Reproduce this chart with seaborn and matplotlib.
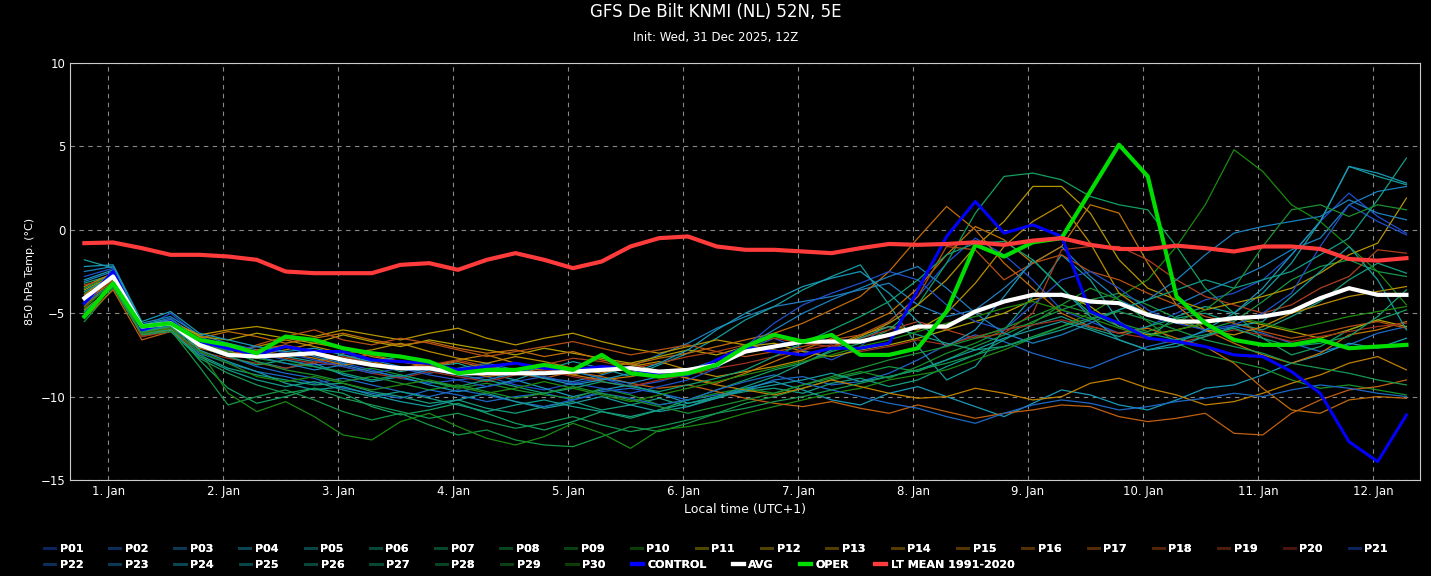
import matplotlib
matplotlib.use("Agg")
import matplotlib.dates as mdates
import matplotlib.pyplot as plt
from matplotlib.colors import LinearSegmentedColormap, to_hex, to_rgb
from matplotlib.lines import Line2D
import pandas as pd
import seaborn as sns

times = pd.date_range("2025-12-31 19:00", periods=47, freq="6h")

lt_mean = [-0.8, -0.76, -1.1, -1.5, -1.5, -1.6, -1.8, -2.5, -2.6, -2.6, -2.6, -2.1, -2.0, -2.4, -1.8, -1.4,
           -1.8, -2.3, -1.9, -1.0, -0.5, -0.4, -1.0, -1.2, -1.2, -1.3, -1.4, -1.1, -0.85, -0.9, -0.85, -0.75,
           -0.9, -0.65, -0.5, -0.9, -1.15, -1.15, -0.95, -1.1, -1.3, -1.0, -1.0, -1.15, -1.75, -1.85, -1.7]
avg = [-4.1, -2.8, -5.8, -5.6, -6.9, -7.5, -7.6, -7.5, -7.4, -7.8, -8.1, -8.3, -8.3, -8.6, -8.6, -8.6,
       -8.6, -8.5, -8.4, -8.3, -8.5, -8.4, -8.1, -7.3, -7.0, -6.7, -6.7, -6.7, -6.3, -5.8, -5.8, -4.9,
       -4.3, -3.9, -3.9, -4.3, -4.4, -5.1, -5.5, -5.5, -5.3, -5.2, -4.9, -4.1, -3.5, -3.9, -3.9]
oper = [-5.2, -3.2, -5.8, -5.6, -6.6, -6.9, -7.4, -6.4, -6.6, -7.1, -7.4, -7.6, -7.9, -8.6, -8.4, -8.4,
        -8.1, -8.4, -7.5, -8.6, -8.8, -8.6, -8.1, -7.0, -6.3, -6.7, -6.3, -7.5, -7.5, -7.1, -4.9, -0.9,
        -1.6, -0.75, -0.5, 2.3, 5.1, 3.2, -4.0, -5.6, -6.6, -6.9, -6.9, -6.6, -7.1, -7.0, -6.9]
control = [-4.4, -2.5, -6.0, -5.5, -6.7, -7.1, -7.5, -7.0, -7.3, -7.3, -7.8, -7.9, -8.0, -8.4, -8.2, -8.0,
           -8.3, -8.4, -8.2, -8.3, -8.7, -8.7, -7.8, -7.0, -7.3, -7.5, -7.1, -7.1, -6.8, -3.6, -0.4, 1.7,
           -0.2, 0.3, -0.4, -4.9, -5.6, -6.5, -6.7, -7.0, -7.5, -7.6, -8.5, -9.8, -12.7, -13.9, -11.1]

members = {
    "P01": [-3.5,-2.6,-5.9,-5.0,-6.4,-7.0,-7.4,-7.8, -8.1,-8.0,-8.4,-8.9,-9.2,-9.0,-8.8,-9.3, -9.6,-9.2,-8.9,-9.4,-9.1,-8.6,-8.0,-7.2, -6.5,-7.2,-7.8,-7.0,-5.5,-4.0,-2.0,-0.5, -1.5,-3.0,-4.8,-5.5,-6.2,-5.8,-5.0,-4.2, -3.8,-3.0,-1.5,0.5,2.2,0.8,-0.2],
    "P02": [-4.0,-2.9,-6.2,-5.6,-7.0,-7.6,-8.2,-8.6, -8.9,-9.5,-9.8,-10.1,-9.6,-9.9,-10.3,-10.0, -9.8,-10.2,-9.7,-9.5,-9.8,-10.2,-9.9,-9.6, -9.0,-8.8,-9.3,-9.1,-8.6,-7.8,-6.9,-6.3, -6.7,-7.4,-7.9,-8.3,-7.6,-7.0,-6.6,-6.1, -5.8,-6.2,-6.8,-7.3,-6.9,-6.2,-5.8],
    "P03": [-2.5,-2.2,-5.6,-5.2,-6.3,-6.8,-7.2,-7.0, -7.6,-8.0,-7.8,-8.2,-8.6,-8.3,-8.0,-8.4, -8.9,-9.1,-8.7,-8.2,-7.5,-6.8,-5.9,-5.2, -4.6,-4.3,-4.0,-3.6,-3.2,-4.5,-5.2,-4.8, -3.5,-2.0,-1.0,-2.8,-4.2,-5.0,-4.5,-3.7, -3.0,-2.2,-1.2,-0.5,1.5,2.3,2.6],
    "P04": [-3.0,-2.4,-5.8,-5.5,-6.8,-7.2,-7.9,-8.3, -8.0,-8.7,-9.1,-8.8,-9.3,-9.7,-9.4,-9.0, -9.5,-10.0,-9.6,-9.3,-9.8,-10.4,-10.1,-9.5, -9.1,-9.6,-10.2,-10.5,-9.8,-9.4,-10.0,-10.6, -11.2,-10.4,-9.6,-9.9,-10.5,-10.8,-10.2,-9.5, -9.3,-8.7,-8.0,-7.5,-6.8,-7.1,-6.5],
    "P05": [-1.8,-2.3,-5.7,-5.3,-6.6,-7.1,-7.3,-7.6, -7.9,-7.5,-8.0,-8.5,-8.2,-8.0,-8.6,-9.0, -8.4,-7.9,-8.3,-8.8,-8.1,-7.4,-6.5,-5.4, -4.6,-3.6,-2.8,-2.1,-4.5,-7.0,-9.0,-8.2, -6.0,-4.0,-1.5,-3.0,-5.5,-6.5,-5.2,-4.6, -5.0,-3.8,-2.0,0.5,3.8,3.2,2.7],
    "P06": [-3.2,-2.7,-6.0,-5.9,-7.5,-8.3,-8.7,-9.0, -9.3,-9.2,-9.7,-10.0,-10.4,-10.2,-10.7,-11.0, -10.6,-10.3,-10.8,-10.5,-10.1,-10.6,-10.0,-9.7, -9.5,-9.8,-9.2,-8.9,-9.4,-9.0,-8.2,-7.5, -6.6,-5.7,-5.2,-5.9,-6.4,-5.8,-5.3,-5.0, -5.6,-6.0,-5.2,-4.3,-3.0,-2.0,-2.6],
    "P07": [-4.5,-3.3,-6.1,-5.8,-7.8,-9.5,-10.4,-10.0, -9.5,-9.8,-10.6,-11.1,-10.8,-10.4,-11.0,-11.6, -12.0,-11.5,-10.9,-11.3,-10.8,-10.2,-9.6,-9.0, -8.4,-8.0,-7.3,-6.8,-6.0,-4.5,-2.0,1.0, 3.2,3.4,3.0,2.0,1.5,1.2,-1.0,-3.5, -5.0,-6.5,-7.5,-7.0,-6.0,-5.4,-4.8],
    "P08": [-5.5,-3.5,-6.3,-6.0,-8.2,-10.5,-10.0,-9.6, -10.2,-10.9,-11.4,-11.0,-11.7,-12.3,-12.0,-12.6, -12.9,-13.0,-12.4,-11.8,-12.1,-11.6,-11.0,-10.4, -10.0,-9.5,-9.0,-8.6,-8.2,-8.5,-7.8,-7.0, -6.3,-5.5,-4.8,-4.2,-3.8,-4.5,-5.3,-6.0, -5.5,-4.3,-3.0,-2.2,-1.8,-2.5,-2.8],
    "P09": [-3.8,-2.8,-6.1,-5.7,-6.9,-7.4,-7.7,-8.0, -8.2,-8.5,-8.3,-8.7,-9.1,-9.5,-9.2,-9.6, -9.9,-10.1,-9.5,-9.9,-10.5,-10.2,-9.8,-9.5, -9.8,-9.3,-8.9,-8.5,-8.9,-8.2,-7.4,-6.8, -6.0,-5.6,-4.5,-3.5,-4.2,-5.5,-6.8,-7.5, -7.9,-8.3,-9.0,-9.5,-9.3,-9.6,-9.9],
    "P10": [-5.2,-3.2,-6.0,-5.6,-7.2,-9.8,-10.9,-10.3, -11.2,-12.3,-12.6,-11.5,-11.0,-11.8,-12.5,-12.9, -12.4,-11.6,-12.2,-13.1,-12.0,-11.8,-11.5,-11.0, -10.6,-10.2,-9.8,-9.5,-9.0,-8.7,-8.4,-7.8, -7.2,-6.5,-5.8,-5.0,-4.0,-3.0,-1.0,1.5, 4.8,3.5,1.5,0.5,-1.0,-2.5,-4.5],
    "P11": [-3.6,-2.7,-5.8,-5.4,-6.4,-6.6,-6.2,-6.5, -6.8,-6.3,-6.7,-7.0,-6.6,-6.9,-7.2,-7.5, -7.1,-7.4,-7.7,-8.0,-7.6,-7.2,-7.5,-7.0, -6.8,-7.3,-7.6,-7.2,-6.9,-6.5,-6.0,-5.5, -5.0,-4.2,-3.8,-4.6,-5.8,-6.3,-6.0,-5.6, -5.3,-5.7,-6.1,-6.5,-6.0,-5.4,-5.8],
    "P12": [-4.2,-3.0,-6.0,-5.5,-6.3,-6.0,-5.8,-6.1, -6.4,-6.0,-6.3,-6.6,-6.2,-5.9,-6.5,-6.9, -6.5,-6.2,-6.7,-7.1,-7.4,-7.0,-6.6,-6.9, -7.2,-7.5,-7.1,-6.4,-5.6,-4.5,-3.0,-1.0, 0.5,2.6,2.6,1.0,-1.8,-3.5,-4.2,-4.8, -4.4,-4.0,-3.5,-2.6,-1.5,-0.8,1.9],
    "P13": [-3.4,-2.6,-5.9,-5.7,-6.8,-7.3,-7.0,-6.6, -7.0,-7.4,-7.2,-6.8,-7.3,-7.7,-8.0,-7.6, -7.9,-8.3,-8.6,-8.2,-7.9,-8.4,-8.8,-8.5, -8.2,-7.8,-7.0,-6.3,-5.8,-6.0,-5.0,-3.2, -1.0,0.5,1.5,-0.8,-3.8,-5.0,-5.5,-6.0, -6.3,-5.8,-5.0,-4.5,-4.0,-3.7,-3.4],
    "P14": [-4.8,-3.4,-6.2,-6.0,-6.6,-7.0,-7.5,-7.2, -6.8,-7.1,-7.6,-7.9,-8.2,-7.8,-7.5,-8.0, -8.4,-8.7,-8.3,-8.0,-8.5,-8.9,-9.3,-9.6, -9.9,-9.5,-9.0,-9.4,-9.8,-10.1,-10.0,-9.5, -9.8,-10.2,-10.0,-9.2,-8.9,-9.5,-9.9,-10.5, -10.3,-9.8,-9.2,-8.7,-8.0,-7.6,-8.4],
    "P15": [-3.9,-2.5,-6.0,-5.6,-7.0,-7.3,-7.6,-7.4, -7.7,-8.1,-7.9,-8.3,-8.0,-8.4,-8.8,-8.6, -8.3,-8.7,-9.0,-8.8,-8.5,-8.9,-9.2,-8.6, -7.9,-7.2,-6.5,-5.8,-5.0,-3.5,-1.5,0.2, -0.6,-2.0,-1.0,1.5,1.0,-2.0,-4.5,-6.0, -6.8,-7.5,-8.0,-7.4,-6.3,-6.0,-5.5],
    "P16": [-4.3,-3.1,-6.4,-6.0,-6.5,-6.1,-6.4,-6.8, -6.5,-6.2,-6.6,-6.9,-6.7,-7.1,-7.4,-7.2, -7.6,-7.3,-7.8,-8.1,-7.7,-7.4,-7.0,-6.6, -6.2,-5.6,-4.8,-4.0,-2.5,-0.5,1.4,0.0, -2.0,-3.5,-5.0,-5.8,-6.2,-5.9,-6.5,-7.0, -8.0,-9.5,-10.8,-11.0,-10.2,-10.0,-10.1],
    "P17": [-5.3,-3.6,-6.6,-6.1,-7.1,-7.5,-7.2,-6.9, -7.3,-7.7,-7.5,-7.9,-8.2,-7.9,-8.3,-8.6, -8.9,-8.5,-8.8,-9.2,-9.5,-9.3,-9.7,-10.1, -10.4,-10.6,-10.3,-10.7,-11.0,-10.5,-10.9,-11.3, -11.0,-10.8,-10.5,-10.6,-11.2,-11.5,-11.3,-11.0, -12.2,-12.3,-11.0,-10.2,-9.6,-9.4,-9.0],
    "P18": [-4.6,-3.0,-6.3,-5.9,-7.0,-7.6,-6.9,-6.4, -6.0,-6.6,-6.9,-6.5,-6.8,-7.2,-7.6,-7.3, -7.0,-6.7,-7.1,-7.5,-7.2,-6.9,-7.3,-7.6, -7.3,-7.0,-6.6,-6.3,-5.5,-4.0,-1.0,-1.2, -3.0,-2.0,-1.5,-2.5,-3.0,-3.8,-4.5,-5.2, -5.6,-6.1,-6.5,-6.2,-5.8,-5.5,-5.9],
    "P19": [-3.3,-2.9,-6.2,-5.8,-6.9,-7.1,-7.4,-7.7, -8.0,-7.6,-8.0,-8.4,-8.1,-7.8,-8.2,-8.5, -8.1,-7.7,-7.9,-8.3,-8.0,-7.6,-7.3,-6.9, -6.5,-6.8,-7.0,-6.5,-6.0,-5.5,-6.0,-6.5, -6.2,-5.0,-1.2,-1.0,-1.0,-1.8,-3.0,-4.0, -4.5,-5.0,-4.5,-3.5,-2.8,-1.2,-1.4],
    "P20": [-4.0,-3.1,-6.4,-6.1,-7.3,-7.7,-8.0,-8.3, -7.9,-8.2,-8.6,-8.9,-8.5,-8.8,-9.1,-8.7, -8.4,-8.8,-9.1,-9.4,-9.0,-8.7,-8.3,-8.0, -7.6,-7.2,-6.9,-7.3,-7.0,-6.6,-6.9,-6.4, -6.0,-5.7,-5.4,-5.8,-6.2,-6.5,-6.8,-6.4, -6.0,-6.3,-6.7,-6.4,-6.1,-5.8,-5.6],
    "P21": [-2.8,-2.3,-5.9,-5.3,-6.7,-7.2,-7.0,-7.4, -7.8,-8.2,-8.6,-8.3,-8.7,-9.0,-9.4,-9.1, -8.8,-9.2,-9.5,-9.8,-9.4,-9.0,-8.3,-7.0, -5.6,-4.5,-3.8,-3.2,-2.5,-3.0,-4.5,-5.5, -6.0,-4.5,-3.0,-2.5,-3.5,-4.8,-5.6,-6.0, -5.7,-5.0,-3.8,-1.0,1.5,0.5,-0.3],
    "P22": [-4.4,-3.2,-6.1,-5.7,-7.4,-8.0,-8.5,-8.8, -9.2,-8.9,-9.3,-9.7,-10.0,-9.6,-9.9,-10.3, -10.6,-10.2,-9.8,-10.1,-10.5,-10.2,-9.6,-9.1, -8.7,-9.2,-9.6,-10.0,-10.4,-10.7,-11.2,-11.6, -11.0,-10.5,-10.2,-10.4,-10.8,-10.6,-10.3,-10.1, -9.8,-10.0,-9.6,-9.3,-9.5,-9.8,-10.0],
    "P23": [-3.1,-2.5,-5.7,-5.4,-6.6,-7.0,-7.6,-8.0, -8.4,-8.1,-8.5,-8.8,-8.4,-8.7,-9.0,-8.6, -8.2,-8.5,-8.9,-9.2,-8.8,-8.4,-7.8,-7.0, -6.0,-5.0,-4.2,-3.5,-2.8,-2.2,-3.5,-5.0, -6.2,-6.8,-6.3,-5.6,-4.8,-4.2,-3.0,-1.5, -0.2,0.2,0.5,0.8,1.8,1.0,0.6],
    "P24": [-2.2,-2.1,-5.5,-4.9,-6.2,-6.6,-7.0,-7.3, -7.1,-7.5,-7.9,-7.6,-8.0,-8.4,-8.1,-8.5, -8.9,-9.3,-9.0,-8.6,-8.0,-7.2,-6.0,-5.0, -4.2,-3.4,-2.9,-2.5,-3.8,-5.5,-7.0,-6.0, -4.0,-1.8,-3.5,-5.2,-6.6,-7.2,-6.8,-6.0, -5.0,-3.5,-1.5,0.5,3.8,3.4,2.8],
    "P25": [-3.7,-2.8,-6.0,-5.6,-7.2,-7.9,-8.5,-9.2, -9.6,-9.4,-9.9,-10.3,-10.6,-10.2,-9.8,-10.3, -10.7,-10.4,-10.0,-10.5,-10.9,-10.6,-10.1,-9.6, -9.3,-9.0,-8.6,-9.1,-8.8,-8.4,-7.8,-7.2, -6.5,-6.0,-5.5,-6.0,-6.6,-7.2,-7.0,-6.4, -5.8,-5.5,-4.0,-2.5,-1.0,-3.0,-6.0],
    "P26": [-4.9,-3.3,-6.2,-6.0,-7.6,-8.4,-9.0,-9.4, -9.1,-9.6,-10.0,-9.7,-10.1,-10.5,-10.9,-10.5, -10.2,-10.6,-10.9,-11.2,-10.8,-10.4,-10.0,-9.4, -8.8,-8.0,-7.2,-6.5,-5.8,-6.3,-6.8,-7.2, -7.0,-6.5,-6.0,-5.4,-4.8,-4.2,-3.6,-3.0, -3.5,-3.0,-2.5,-1.5,-0.5,1.8,4.3],
    "P27": [-4.1,-2.9,-6.1,-5.8,-7.0,-7.6,-8.1,-7.8, -8.2,-8.6,-9.0,-8.7,-9.1,-9.4,-9.0,-9.4, -9.8,-9.5,-9.1,-9.4,-9.7,-9.3,-8.9,-8.4, -7.6,-6.8,-6.0,-5.2,-4.3,-3.0,-1.5,-0.8, -0.7,-1.8,-3.5,-5.0,-5.8,-6.2,-6.6,-6.3, -5.9,-6.5,-7.0,-6.8,-6.4,-5.2,-3.6],
    "P28": [-5.0,-3.4,-6.3,-6.1,-7.7,-8.6,-9.3,-9.8, -9.5,-10.1,-10.5,-10.9,-11.3,-11.0,-11.5,-11.9, -11.6,-11.2,-11.7,-12.1,-11.8,-11.4,-11.0,-10.7, -10.3,-10.0,-9.6,-9.2,-8.8,-8.4,-8.0,-7.5, -7.0,-6.4,-5.8,-5.3,-4.9,-5.4,-6.0,-6.6, -7.0,-7.4,-8.0,-8.3,-8.6,-9.0,-9.3],
    "P29": [-3.5,-2.7,-5.9,-5.5,-6.8,-7.3,-7.9,-8.4, -8.7,-9.1,-8.8,-9.2,-9.6,-9.3,-9.7,-10.1, -9.8,-9.4,-9.8,-10.2,-10.6,-11.0,-10.6,-10.2, -9.8,-9.3,-8.8,-8.3,-7.8,-7.4,-7.0,-6.5, -5.9,-5.2,-4.5,-5.0,-5.6,-6.1,-5.5,-4.8, -3.5,-1.0,1.2,1.5,0.8,1.5,1.2],
    "P30": [-4.7,-3.1,-6.2,-5.9,-7.3,-8.0,-8.8,-9.1, -8.8,-9.2,-9.6,-9.3,-9.0,-9.4,-9.8,-9.5, -9.1,-9.5,-9.9,-10.3,-9.9,-9.5,-9.1,-8.7, -8.3,-7.9,-7.5,-7.0,-6.6,-6.1,-5.6,-5.2, -4.7,-4.3,-4.8,-5.3,-5.9,-6.4,-6.0,-5.6, -5.2,-5.6,-6.0,-5.6,-5.2,-4.9,-4.6],
}

# member colours: blue -> teal -> green, olive -> orange -> red-brown, blue -> green
c1 = LinearSegmentedColormap.from_list("a", ["#1f4fd0", "#1a98b8", "#12a060", "#1a8a10"])
c2 = LinearSegmentedColormap.from_list("b", ["#b0a000", "#c08000", "#c06010", "#a03020"])
c3 = LinearSegmentedColormap.from_list("c", ["#2050c8", "#1898b8", "#10a070", "#208a10"])
names = list(members)
colors = {}
for i, n in enumerate(names):
    cm = [c1, c2, c3][i // 10]
    colors[n] = to_hex(cm((i % 10) / 9))

fig = plt.figure(figsize=(14.31, 5.76), dpi=100, facecolor="black")
ax = fig.add_axes([70 / 1431, 1 - 480 / 576, 1350 / 1431, 417 / 576])
ax.set_facecolor("black")

for n in names:
    sns.lineplot(x=times, y=members[n], ax=ax, color=colors[n], linewidth=0.9, legend=False)
sns.lineplot(x=times, y=control, ax=ax, color="#0000ff", linewidth=2.2, legend=False)
sns.lineplot(x=times, y=avg, ax=ax, color="white", linewidth=3, legend=False)
sns.lineplot(x=times, y=oper, ax=ax, color="#00dd00", linewidth=3, legend=False)
sns.lineplot(x=times, y=lt_mean, ax=ax, color="#ff3b3b", linewidth=3, legend=False)

ax.set_ylim(-15, 10)
ax.set_yticks([-15, -10, -5, 0, 5, 10])
ax.set_xlim(pd.Timestamp("2025-12-31 16:00"), pd.Timestamp("2026-01-12 09:50"))
ax.xaxis.set_major_locator(mdates.DayLocator())
ax.xaxis.set_major_formatter(mdates.DateFormatter("%-d. Jan"))
ax.grid(True, color="#888888", linestyle=(0, (4, 4)), linewidth=0.8)
ax.tick_params(colors="white", labelsize=8.5, length=0)
for s in ax.spines.values():
    s.set_color("#cccccc")
ax.set_xlabel("Local time (UTC+1)", color="white", fontsize=9)
ax.set_ylabel("850 hPa Temp. (°C)", color="white", fontsize=8)

fig.text(0.5, 1 - 12 / 576, "GFS De Bilt KNMI (NL) 52N, 5E", color="white", fontsize=12,
         ha="center", va="center")
fig.text(0.5, 1 - 38 / 576, "Init: Wed, 31 Dec 2025, 12Z", color="white", fontsize=8.5,
         ha="center", va="center")

# legend swatches of the members are drawn darker, as in the reference
handles = [Line2D([], [], color=tuple(0.45 * v for v in to_rgb(colors[n])), lw=2) for n in names]
labels = list(names)
handles += [Line2D([], [], color=c, lw=3) for c in ["#0000ff", "white", "#00dd00", "#ff3b3b"]]
labels += ["CONTROL", "AVG", "OPER", "LT MEAN 1991-2020"]
for row, y in [(0, 549), (1, 565)]:
    h = handles[row * 21:(row + 1) * 21]
    l = labels[row * 21:(row + 1) * 21]
    leg = fig.legend(h, l, ncol=len(l), loc="center left", bbox_to_anchor=(44 / 1431, 1 - y / 576),
                     frameon=False, fontsize=8, handlelength=1.0, columnspacing=2.35,
                     handletextpad=0.4, borderpad=0, borderaxespad=0)
    for t in leg.get_texts():
        t.set_color("white")
        t.set_fontweight("bold")
    fig.add_artist(leg)

fig.savefig("out.png", dpi=100, facecolor="black")
